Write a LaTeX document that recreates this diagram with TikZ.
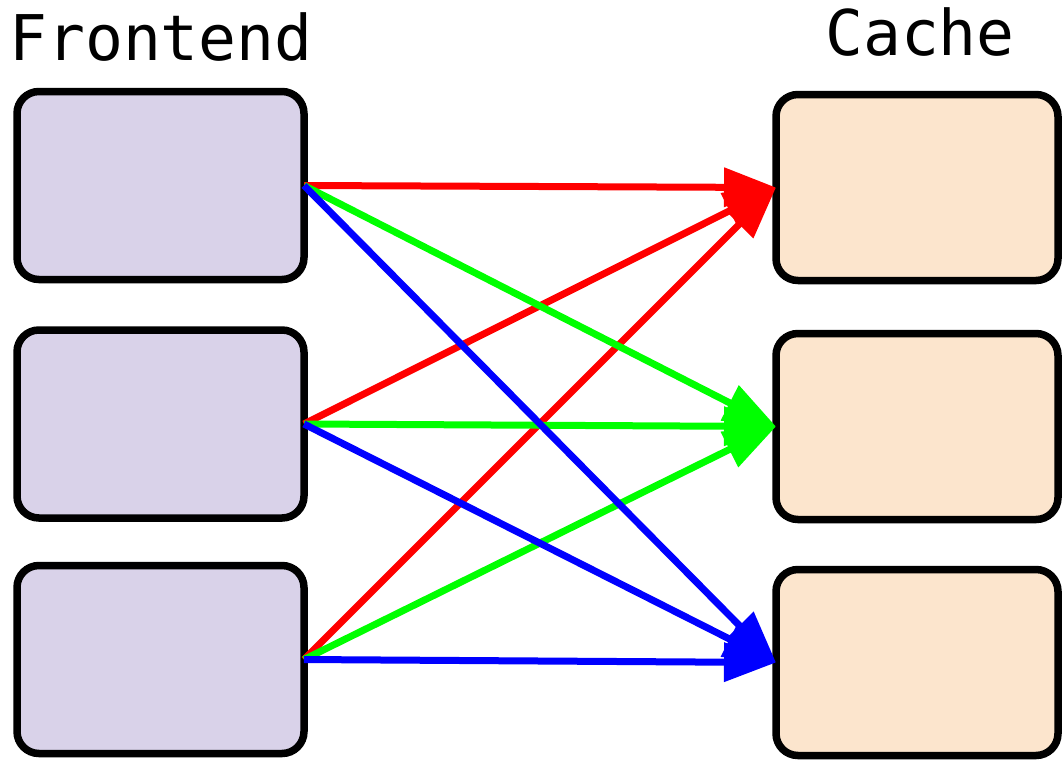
\documentclass[tikz,border=0pt]{standalone}
\usepackage{fontspec}
\newfontfamily\labelfont{DejaVu Sans Mono}
\usetikzlibrary{arrows.meta}
\definecolor{frontfill}{HTML}{D9D2E9}
\definecolor{cachefill}{HTML}{FCE5CD}
\definecolor{linkred}{HTML}{FF0000}
\definecolor{linkgreen}{HTML}{00FF00}
\definecolor{linkblue}{HTML}{0000FF}
\begin{document}
\begin{tikzpicture}[x=1pt,y=-1pt,
  box/.style={draw=black,line width=7.5pt,rounded corners=22pt,outer sep=0pt,inner sep=0pt},
  frontbox/.style={box,fill=frontfill,minimum width=287pt,minimum height=188pt},
  cachebox/.style={box,fill=cachefill,minimum width=282pt,minimum height=186pt},
  title/.style={anchor=base,inner sep=0pt,font=\labelfont\fontsize{63}{63}\selectfont},
  link/.style={line width=7pt,-{Triangle[length=52pt,width=38pt]}}
]
\useasboundingbox (0,0) rectangle (1062,761);

% column titles
\node[title] (tfront) at (161,60) {Frontend};
\node[title] (tcache) at (920,55) {Cache};

% frontend boxes
\node[frontbox] (f1) at (160.5,185.5) {};
\node[frontbox] (f2) at (160.5,424) {};
\node[frontbox] (f3) at (160.5,659.5) {};

% cache boxes
\node[cachebox] (c1) at (917,187.5) {};
\node[cachebox] (c2) at (917,426.5) {};
\node[cachebox] (c3) at (917,662.5) {};

% every frontend talks to every cache
\foreach \f in {f1,f2,f3} \draw[link,linkred] (\f.east) -- (c1.west);
\foreach \f in {f1,f2,f3} \draw[link,linkgreen] (\f.east) -- (c2.west);
\foreach \f in {f1,f2,f3} \draw[link,linkblue] (\f.east) -- (c3.west);
\end{tikzpicture}
\end{document}
